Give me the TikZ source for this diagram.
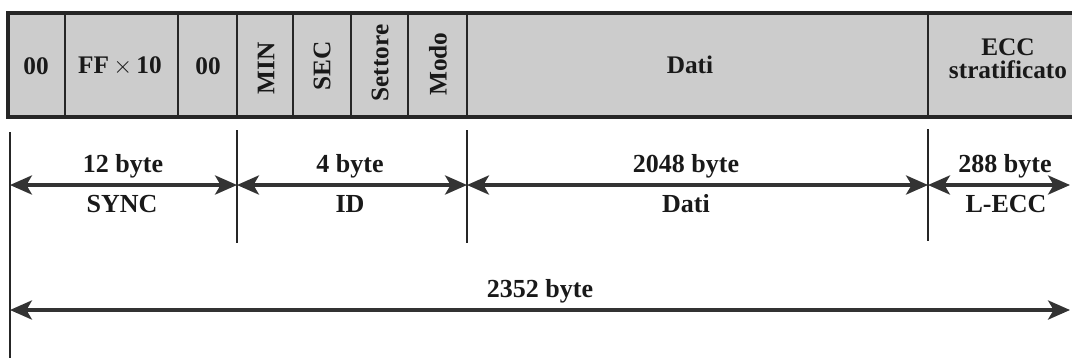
\documentclass[tikz,border=0pt]{standalone}
\usepackage{fontspec}
\setmainfont{Liberation Serif}
\usetikzlibrary{arrows.meta}

\begin{document}
\begin{tikzpicture}[x=0.025cm, y=-0.025cm,
        cell/.style={font=\fontsize{18}{16.5}\selectfont\bfseries, text=black!90},
        vcell/.style={cell, rotate=90},
        lbl/.style={anchor=base, font=\fontsize{18.5}{20}\selectfont\bfseries, text=black!90},
        dim/.style={{Stealth[length=0.55cm, width=0.48cm, inset=0.14cm]}-{Stealth[length=0.55cm, width=0.48cm, inset=0.14cm]},
            line width=2.2pt, draw=black!80}]
        \useasboundingbox (0,0) rectangle (1072,358);

        % campi del settore
        \filldraw[fill=black!20, draw=black!85, line width=2.4pt] (8,13) rectangle (1090,117);
        \foreach \x in {65,178,237,293,351,408,467,928}
            \draw[black!85, line width=1.6pt] (\x,13) -- (\x,117);

        \node[cell] (zeroa) at (36,66) {00};
        \node[cell] (ff) at (120,66) {FF\hspace{3pt}$\mathord{\times}$\hspace{3pt}10};
        \node[cell] (zerob) at (208,66) {00};
        \node[vcell] (min) at (266,68) {MIN};
        \node[vcell] (sec) at (322,66) {SEC};
        \node[vcell] (sett) at (380,63) {Settore};
        \node[vcell] (modo) at (438,64) {Modo};
        \node[cell] (dati) at (690,65) {Dati};
        \node[cell, align=center] (ecc) at (1008,59) {ECC\\stratificato};

        % quote
        \draw[black!85, line width=1pt] (10,132) -- (10,358);
        \draw[black!85, line width=1pt] (237,130) -- (237,243);
        \draw[black!85, line width=1pt] (467,130) -- (467,243);
        \draw[black!85, line width=1pt] (928,129) -- (928,241);

        \coordinate (q0) at (10,185);
        \coordinate (q1) at (237,185);
        \coordinate (q2) at (467,185);
        \coordinate (q3) at (928,185);
        \coordinate (q4) at (1070,185);
        \coordinate (t0) at (10,310);
        \coordinate (t1) at (1070,310);

        \draw[dim] (q0) -- (q1);
        \draw[dim] (q1) -- (q2);
        \draw[dim] (q2) -- (q3);
        \draw[dim] (q3) -- (q4);
        \draw[dim] (t0) -- (t1);

        \node[lbl] (nsync) at (123,172) {12 byte};
        \node[lbl] (sync) at (122,212) {SYNC};
        \node[lbl] (nid) at (350,172) {4 byte};
        \node[lbl] (id) at (350,212) {ID};
        \node[lbl] (ndati) at (686,172) {2048 byte};
        \node[lbl] (qdati) at (686,212) {Dati};
        \node[lbl] (necc) at (1005,172) {288 byte};
        \node[lbl] (lecc) at (1006,212) {L-ECC};
        \node[lbl] (ntot) at (540,297) {2352 byte};
\end{tikzpicture}
\end{document}
